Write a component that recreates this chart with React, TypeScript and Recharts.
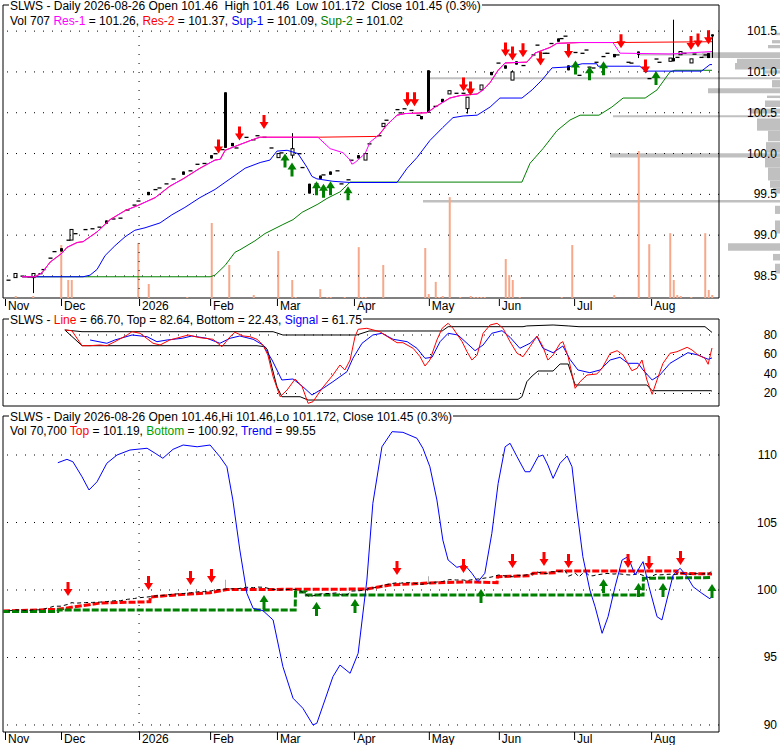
import React from 'react';
import { ComposedChart, Line, Bar, Scatter, XAxis, YAxis, ReferenceLine, ReferenceArea } from 'recharts';

const FONT = '"Liberation Sans", Arial, Helvetica, sans-serif';

// x axis = trading-day index (0 = first bar, early Nov 2025)
const T_MIN = -4 / 7;
const T_MAX = 204;
const T_RIGHT_EDGE = 221.43;
const PROFILE_UNITS_PER_DAY = 3.5;

const monthTicks = [0, 16, 38.3, 58.6, 77.7, 99.7, 121.1, 141.1, 162.6, 184.6];
const monthLabels = ['Nov', 'Dec', '2026', 'Feb', 'Mar', 'Apr', 'May', 'Jun', 'Jul', 'Aug'];
const yearTick = 38.3;

const priceTicks = [98.5, 99, 99.5, 100, 100.5, 101, 101.5];
const oscTicks = [20, 40, 60, 80];
const trendTicks = [90, 95, 100, 105, 110];

// candles: [t, o, h, l, c] or [t, price] for a flat bar
const candles: number[][] = [
  [1, 98.45], [3, 98.48, 98.53, 98.48, 98.53], [5, 98.5], [7, 98.49], [8, 98.48, 98.53, 98.29, 98.53],
  [10, 98.53], [11, 98.58], [13, 98.72], [14, 98.8], [16, 98.84, 98.84, 98.8, 98.8], [18, 98.94],
  [19, 98.94, 99.07, 98.94, 99.07], [20, 99.02], [23, 99.07], [25, 99.08], [27, 99.1],
  [29, 99.18, 99.18, 99.14, 99.14], [31, 99.2], [33, 99.21], [35, 99.31], [37, 99.37], [38, 99.42],
  [41, 99.53, 99.53, 99.49, 99.49], [43, 99.56], [44, 99.58], [46, 99.63], [48, 99.69],
  [51, 99.78, 99.78, 99.74, 99.74], [53, 99.79], [55, 99.87], [57, 99.88], [59, 99.98, 99.98, 99.94, 99.94],
  [60, 100.0], [62, 100.05], [63, 100.75, 100.75, 100.07, 100.07], [65, 100.13, 100.13, 100.09, 100.09],
  [66, 100.07], [69, 100.2], [71, 100.17], [72, 100.22], [74, 100.2], [76, 100.07],
  [78, 99.95, 100.0, 99.95, 100.0], [79, 100.01], [82, 99.98, 100.25, 99.94, 100.06], [84, 100.0],
  [85, 99.83], [87, 99.63, 99.63, 99.51, 99.51], [89, 99.63], [90, 99.73, 99.73, 99.69, 99.69],
  [91, 99.74], [93, 99.78, 99.78, 99.74, 99.74], [95, 99.79], [96, 99.63], [98, 99.68], [99, 99.92],
  [101, 99.98, 99.98, 99.94, 99.94], [103, 99.92, 100.0, 99.92, 100.0], [104, 100.12], [107, 100.22],
  [108, 100.33, 100.37, 100.33, 100.37], [109, 100.41], [112, 100.54], [113, 100.5], [114, 100.55],
  [116, 100.53], [118, 100.47], [119, 100.46, 100.46, 100.42, 100.42], [121, 101.02, 101.02, 100.5, 100.5],
  [123, 100.58], [125, 100.67, 100.67, 100.63, 100.63], [127, 100.73, 100.77, 100.73, 100.77],
  [129, 100.74], [131, 100.74], [132, 100.55, 100.69, 100.49, 100.69], [133, 100.75],
  [136, 100.78, 100.84, 100.78, 100.84], [139, 101.0, 101.0, 100.96, 100.96], [141, 101.11],
  [143, 101.08, 101.08, 101.04, 101.04], [145, 100.9, 101.02, 100.9, 101.0],
  [146, 101.13, 101.13, 101.09, 101.09], [148, 101.08], [151, 101.21], [152, 101.33], [154, 101.23],
  [155, 101.23], [156, 101.35], [158, 101.41, 101.41, 101.37, 101.37], [159, 101.41], [160, 101.44],
  [161, 101.08, 101.08, 101.02, 101.02], [163, 101.24], [164, 100.96], [165, 101.23], [166, 101.27],
  [167, 101.06], [168, 101.05], [169, 101.12], [171, 101.19], [172, 101.23],
  [174, 101.22, 101.22, 101.18, 101.18], [175, 101.21], [178, 101.12], [179, 101.11],
  [181, 101.25, 101.25, 101.17, 101.21], [183, 101.01], [184, 100.92], [186, 101.16], [187, 101.12],
  [190, 101.13, 101.17, 101.13, 101.17], [191, 101.17, 101.64, 101.13, 101.13], [192, 101.18],
  [193, 101.21, 101.25, 101.21, 101.25], [194, 101.23], [196, 101.11, 101.16, 101.11, 101.16],
  [197, 101.22], [199, 101.18], [200, 101.21], [201, 101.23, 101.23, 101.17, 101.17],
  [202, 101.46, 101.46, 101.172, 101.45],
];

const volume: [number, number][] = [
  [3, 470], [8, 470], [16, 12500], [18, 4250], [19, 4250], [38, 13000], [41, 3300], [52, 240], [59, 17700],
  [64, 7800], [71, 700], [78, 11100], [82, 4250], [83, 240], [90, 2100], [92, 240], [93, 240], [97, 240],
  [101, 12000], [102, 240], [103, 240], [108, 7800], [120, 11800], [121, 940], [123, 3800], [124, 240],
  [125, 470], [127, 23800], [130, 240], [133, 470], [134, 240], [135, 240], [136, 240], [137, 240],
  [143, 9200], [144, 5400], [145, 4250], [147, 240], [159, 240], [162, 12500], [174, 700], [181, 34700],
  [184, 12700], [190, 15300], [191, 4250], [192, 700], [193, 470], [196, 240], [200, 15300], [201, 1900],
  [202, 707],
];

// volume-by-price: [low, high, volume]
const priceProfile: [number, number, number][] = [
  [101.45, 101.48, 5], [101.35, 101.39, 8], [101.29, 101.33, 12], [101.17, 101.24, 78],
  [101.2, 101.225, 142], [101.11, 101.16, 43], [101.03, 101.11, 45], [100.98, 101.02, 15],
  [100.91, 100.935, 350], [100.81, 100.9, 8], [100.74, 100.8, 72], [100.68, 100.71, 13],
  [100.57, 100.65, 15], [100.49, 100.55, 30], [100.445, 100.47, 167], [100.28, 100.43, 23],
  [100.15, 100.28, 12], [100.01, 100.14, 14], [99.95, 100.005, 170], [99.83, 99.95, 15],
  [99.67, 99.83, 12], [99.58, 99.67, 10], [99.51, 99.58, 7], [99.4, 99.43, 357], [99.26, 99.36, 5],
  [99.02, 99.18, 5], [98.81, 98.9, 52], [98.69, 98.77, 7], [98.53, 98.65, 5],
];

const res1: [number, number][] = [
  [4.9, 98.49], [8.6, 98.49], [10.6, 98.54], [12.9, 98.67], [16.3, 98.78], [17.7, 98.85], [20.6, 98.91],
  [22.3, 98.92], [26.3, 99.04], [30, 99.19], [34.3, 99.3], [38.3, 99.37], [42.9, 99.46], [47.1, 99.6],
  [50.9, 99.69], [55.7, 99.82], [60, 99.92], [61.5, 99.93], [62.9, 100.04], [67.1, 100.11], [71.4, 100.18],
  [72.9, 100.2], [89.4, 100.2], [92.9, 100.06], [96.6, 100.01], [98.6, 99.92], [99.1, 99.87], [100, 99.89],
  [102.9, 100.0], [104.3, 100.14], [106.6, 100.22], [109.1, 100.35], [112, 100.47], [114.3, 100.49],
  [120.6, 100.5], [122.9, 100.57], [127.1, 100.68], [130, 100.71], [134.9, 100.73], [136.6, 100.78],
  [138.6, 100.87], [140.9, 101.02], [142.9, 101.11], [149.1, 101.12], [151.4, 101.23], [155.7, 101.3],
  [157.7, 101.35], [164.3, 101.36], [173.7, 101.36], [175.7, 101.23], [190, 101.22], [202, 101.25],
];
const res2: [number, number][] = [
  [4.9, 98.49], [8.6, 98.49], [10.6, 98.54], [12.9, 98.67], [16.3, 98.78], [17.7, 98.85], [20.6, 98.91],
  [22.3, 98.92], [26.3, 99.04], [30, 99.19], [34.3, 99.3], [38.3, 99.37], [42.9, 99.46], [47.1, 99.6],
  [50.9, 99.69], [55.7, 99.82], [60, 99.92], [61.5, 99.93], [62.9, 100.04], [67.1, 100.11], [71.4, 100.18],
  [72.9, 100.2], [89.4, 100.2], [106.6, 100.21], [109.1, 100.35], [112, 100.47], [114.3, 100.49],
  [120.6, 100.5], [122.9, 100.57], [127.1, 100.68], [130, 100.71], [134.9, 100.73], [136.6, 100.78],
  [138.6, 100.87], [140.9, 101.02], [142.9, 101.11], [149.1, 101.12], [151.4, 101.23], [155.7, 101.3],
  [157.7, 101.35], [164.3, 101.36], [173.7, 101.36], [202, 101.37],
];
const sup1: [number, number][] = [
  [4.9, 98.49], [22.3, 98.49], [24.3, 98.51], [26.3, 98.58], [28.6, 98.75], [31.4, 98.87], [34.3, 98.98],
  [37.1, 99.06], [40, 99.09], [44.3, 99.15], [47.7, 99.25], [51.4, 99.34], [55.7, 99.46], [60, 99.56],
  [64.3, 99.69], [68.6, 99.82], [72.9, 99.89], [75.7, 99.92], [77.7, 100.03], [80.6, 100.04],
  [83.7, 100.0], [86.3, 99.83], [87.7, 99.72], [89.1, 99.69], [93.7, 99.66], [98.6, 99.645],
  [112, 99.645], [114.9, 99.82], [117.7, 99.95], [121.4, 100.16], [125.1, 100.32], [128, 100.44],
  [130.9, 100.46], [134.9, 100.47], [138.6, 100.57], [141.4, 100.68], [147.7, 100.68], [150.6, 100.78],
  [153.4, 100.9], [156.3, 101.05], [160.6, 101.06], [162.9, 101.08], [164.9, 101.1], [169.1, 101.1],
  [169.4, 101.07], [181.4, 101.07], [182.9, 101.01], [199, 101.01], [201.4, 101.09], [202, 101.09],
];
const sup2: [number, number][] = [
  [4.9, 98.49], [58.6, 98.49], [60, 98.51], [62.9, 98.63], [65.7, 98.79], [67.1, 98.82], [71.4, 98.93],
  [74.3, 99.02], [79.4, 99.13], [82.3, 99.19], [84.9, 99.28], [89.4, 99.38], [92, 99.45], [95.7, 99.53],
  [98.6, 99.65], [147.7, 99.65], [150, 99.88], [153.7, 100.06], [157.7, 100.28], [161.4, 100.41],
  [164.3, 100.47], [169.7, 100.47], [173.4, 100.57], [176.6, 100.68], [182.9, 100.68], [186.3, 100.78],
  [190, 101.0], [191.4, 101.02], [202, 101.02],
];

const sellSignals1: [number, number][] = [
  [61, 100.0], [67, 100.16], [74, 100.3], [115, 100.58], [117, 100.58], [131, 100.76], [133, 100.71],
  [143, 101.19], [145, 101.14], [148, 101.18], [153, 101.08], [161, 101.17], [176, 101.29], [183, 100.98],
  [196, 101.27], [198, 101.3], [201, 101.34],
];
const buySignals1: [number, number][] = [
  [80, 100.0], [82, 99.89], [89, 99.66], [91, 99.63], [93, 99.66], [98, 99.6], [163, 101.14], [167, 101.07],
  [171, 101.13], [186, 101.01],
];

// oscillator panel
const oscLine: [number, number][] = [
  [17.1, 85.13], [19.1, 84.41], [20.9, 74.87], [22, 69.03], [24.3, 69.03], [27.1, 69.74], [29.1, 69.03],
  [31.4, 73.13], [34.9, 80], [36.3, 83.38], [38.6, 81.74], [42.3, 71.49], [44.3, 69.74], [47.1, 74.87],
  [50, 77.64], [52.3, 80], [55.7, 77.23], [59.4, 75.59], [62, 68.0], [64.3, 78.26], [65.7, 82.77],
  [68, 78.97], [70, 78.26], [72, 75.59], [73.7, 69.74], [75.1, 59.49], [76.6, 37.23], [78.6, 16.72],
  [80.6, 23.59], [82.9, 34.87], [84.9, 26.97], [86.6, 9.95], [88, 11.59], [90.6, 25.33], [93.7, 38.97],
  [95.7, 49.23], [97.1, 44.1], [98.6, 54.36], [100, 78.26], [100.9, 85.85], [103.4, 86.87], [107.1, 83.38],
  [110, 76.62], [112, 72.1], [113.7, 72.1], [116.6, 66.36], [118.6, 57.74], [120, 48.21], [121.4, 54.36],
  [123.4, 74.87], [124.9, 86.87], [126.6, 92.0], [128, 86.87], [130.6, 73.13], [132, 62.87], [133.4, 54.36],
  [134.9, 59.49], [136.6, 81.74], [138.6, 90.26], [140.6, 92.0], [142.3, 86.87], [144.3, 73.13],
  [146.3, 61.23], [148, 57.74], [150, 68.0], [152, 78.97], [153.7, 68.0], [155.1, 54.36], [156.6, 59.49],
  [158.6, 71.49], [159.4, 73.13], [160.9, 57.74], [162.9, 25.33], [164.3, 32.1], [166.3, 38.97],
  [169.1, 40.0], [170.6, 45.85], [172.9, 61.23], [174.9, 63.9], [176.6, 59.49], [179.1, 43.38],
  [180.6, 45.85], [182, 54.36], [183.4, 33.85], [184.9, 19.18], [186.3, 33.85], [188, 50.97], [190, 61.23],
  [192, 62.87], [194.9, 67.38], [196.3, 64.62], [198, 59.49], [200, 56.1], [200.9, 49.95], [202, 66.7],
];
const oscSignal: [number, number][] = [
  [24.3, 74.87], [29.1, 71.49], [31.4, 74.87], [36.3, 80], [40.6, 78.26], [43.4, 73.13], [46.3, 74.87],
  [50.6, 76.62], [53.4, 78.97], [57.7, 76.62], [61.4, 71.49], [64.3, 76.62], [67.1, 78.97], [70.9, 75.59],
  [73.7, 69.74], [76.3, 54.36], [79.1, 33.85], [82.3, 34.87], [85.1, 26.97], [87.7, 18.46], [90.9, 25.33],
  [93.7, 32.1], [97.7, 42.36], [99.4, 56.1], [102, 71.49], [105.1, 80], [107.7, 81.74], [110.9, 75.59],
  [114.9, 73.13], [117.7, 66.36], [120, 56.1], [122, 57.13], [124.3, 73.13], [126.6, 81.74], [129.4, 80],
  [132, 71.49], [134.3, 63.9], [136.6, 69.74], [139.1, 81.74], [142, 84.41], [144.3, 77.64], [147.1, 66.36],
  [150, 71.49], [152, 78.26], [153.7, 66.36], [156.6, 61.85], [159.4, 68.72], [161.4, 55.08], [163.7, 44.1],
  [167.1, 41.33], [170, 44.1], [172.9, 54.36], [175.7, 57.13], [178, 50.97], [180.9, 50.97], [182.3, 44.1],
  [184.9, 33.85], [187.1, 38.97], [190, 50.97], [192.9, 57.13], [195.1, 61.85], [198, 59.49],
  [200.9, 55.08], [202, 56.5],
];
const oscTop: [number, number][] = [
  [17.1, 85.13], [22, 83.38], [76.6, 83.38], [79.4, 80.0], [100.5, 80.0], [104, 84.1], [124.9, 84.1],
  [126.6, 88.5], [148, 88.5], [149.1, 89.3], [156.6, 90.26], [160.9, 89.3], [164, 88.5], [200, 88.5],
  [202, 82.64],
];
const oscBottom: [number, number][] = [
  [17.1, 85.13], [22, 69.03], [72, 69.03], [74.3, 68.0], [75, 64.6], [77.7, 27.0], [79.1, 16.7],
  [84.3, 16.7], [86.6, 13.3], [146.6, 14.05], [147.7, 16.7], [149.1, 32.1], [150.6, 37.95], [152.3, 43.08],
  [156.6, 43.08], [158.6, 50.26], [160.9, 50.26], [162.9, 28.72], [183.4, 28.72], [184.9, 22.87],
  [201.7, 22.87], [202, 22.43],
];

// trend panel
const trendLine: [number, number][] = [
  [15.1, 109.43], [17.7, 109.68], [19.4, 109.5], [22, 108.39], [24, 107.41], [26.3, 108.02], [29.1, 109.39],
  [32, 110.0], [35.7, 110.37], [40.6, 110.5], [42.9, 110.13], [45.1, 109.76], [48, 110.42], [50.9, 110.74],
  [54.9, 110.61], [58.6, 110.74], [61.4, 109.87], [63.4, 109.13], [65.1, 106.67], [67.1, 102.96],
  [69.1, 99.76], [70.9, 98.64], [73.7, 98.47], [76.6, 97.78], [79.4, 94.32], [82.3, 91.98], [85.1, 91.24],
  [88, 90.0], [89.1, 90.13], [91.4, 91.85], [93.7, 93.58], [95.7, 94.44], [98.6, 93.83], [100.9, 95.31],
  [103.4, 100.74], [105.1, 106.42], [107.7, 110.61], [110.6, 111.73], [113.7, 111.68], [117.7, 111.24],
  [119.4, 110.5], [121.4, 109.13], [123.4, 106.67], [125.1, 103.7], [126.6, 102.22], [129.1, 101.68],
  [131.4, 101.85], [133.4, 101.24], [135.1, 100.61], [137.1, 101.24], [139.1, 104.2], [140.9, 107.9],
  [142.9, 110.61], [144.3, 110.87], [146.3, 109.87], [148.6, 108.76], [150, 108.76], [152.3, 109.87],
  [153.7, 110.0], [155.1, 109.26], [156.6, 108.27], [158.6, 109.39], [160.6, 109.93], [162, 109.13],
  [163.4, 105.93], [165.1, 102.47], [167.1, 100.0], [168.6, 98.76], [170.6, 96.79], [172.3, 98.02],
  [174.3, 100.24], [176.3, 102.22], [178, 102.47], [180, 101.11], [182.3, 102.1], [184, 100.24],
  [186.3, 98.02], [187.7, 97.78], [189.1, 99.26], [190.9, 101.11], [192.9, 101.61], [194.9, 100.99],
  [196.6, 100.24], [199.1, 99.76], [201.4, 99.35], [202, 99.55],
];
const trendTop: [number, number][] = [
  [-0.57, 98.44], [15.1, 98.57], [27.1, 99.03], [41.4, 99.13], [41.5, 99.48], [47.1, 99.6], [58.6, 99.8],
  [63.4, 100.03], [103.4, 100.07], [110, 100.37], [121.4, 100.52], [132, 100.6], [140.6, 100.54],
  [140.7, 100.99], [150, 101.06], [150.9, 101.24], [157.7, 101.28], [157.8, 101.41], [192, 101.41],
  [192.1, 101.24], [202, 101.19],
];
const trendBottom: [number, number][] = [
  [-0.57, 98.4], [15.1, 98.4], [15.2, 98.52], [82.9, 98.52], [83, 99.85], [86, 99.85], [86.1, 99.63],
  [182.3, 99.63], [182.4, 100.87], [202, 100.92],
];
const sellSignals3: [number, number][] = [
  [18, 99.56], [41, 100.0], [53, 100.37], [59, 100.52], [112, 101.11], [131, 101.26], [145, 101.63],
  [154, 101.78], [161, 101.63], [178, 101.63], [184, 101.48], [193, 101.85],
];
const buySignals3: [number, number][] = [
  [74, 99.63], [89, 99.11], [100, 99.33], [136, 100.07], [171, 100.81], [181, 100.52], [188, 100.52],
  [202, 100.44],
];

// ---------- derived rows ----------
const toRows = (a: [number, number][]) => a.map(([t, v]) => ({ t, v }));
const candleRows = candles.map((r) =>
  r.length === 2 ? { t: r[0], o: r[1], h: r[1], l: r[1], c: r[1] } : { t: r[0], o: r[1], h: r[2], l: r[3], c: r[4] }
);
const volMap = new Map(volume.map(([t, v]) => [t, v]));
const allDays = Array.from(new Set([...candleRows.map((r) => r.t), ...volume.map((v) => v[0])])).sort((a, b) => a - b);
const dayRows = allDays.map((t) => {
  const c = candleRows.find((r) => r.t === t);
  return { ...(c || { t }), vol: volMap.get(t) } as any;
});
const closeRows = candleRows.map((r) => ({ t: r.t, v: r.c }));

// ---------- shapes ----------
const CandleShape = (props: any) => {
  const { x, y, width, height, payload } = props;
  if (!payload || payload.h == null || !Number.isFinite(x) || !Number.isFinite(y) || !Number.isFinite(height)) return <g />;
  const cx = Math.round(x + width / 2);
  const { o, h, l, c } = payload;
  const span = h - l;
  const toY = (v: number) => (span > 0 ? y + ((h - v) / span) * height : y);
  const top = toY(Math.max(o, c));
  const bot = toY(Math.min(o, c));
  return (
    <g>
      {span > 0 && <line x1={cx + 0.5} x2={cx + 0.5} y1={y} y2={y + height} stroke="#000" strokeWidth={1} />}
      {o === c && <rect x={cx - 1.5} y={top - 0.5} width={4} height={1.3} fill="#000" />}
      {c > o && <rect x={cx - 1} y={top} width={3} height={Math.max(bot - top, 2)} fill="#fff" stroke="#000" strokeWidth={1} />}
      {c < o && <rect x={cx - 1} y={top} width={3} height={Math.max(bot - top, 2)} fill="#000" />}
    </g>
  );
};

const DownArrow = (p: any) => {
  const { cx, cy } = p;
  if (!Number.isFinite(cx) || !Number.isFinite(cy)) return <g />;
  return <path d={`M${cx - 1.5} ${cy - 14}h3v7h3l-4.5 7-4.5-7h3z`} fill="#ff0000" />;
};
const UpArrow = (p: any) => {
  const { cx, cy } = p;
  if (!Number.isFinite(cx) || !Number.isFinite(cy)) return <g />;
  return <path d={`M${cx - 1.5} ${cy + 14}h3v-7h3l-4.5-7-4.5 7h3z`} fill="#008000" />;
};

const makeMonthTick = (lineTop: number, lineLen: number, textDy: number) => (props: any) => {
  const { x, y, payload } = props;
  const i = monthTicks.indexOf(payload.value);
  return (
    <g>
      <line x1={x + 0.5} x2={x + 0.5} y1={y + lineTop} y2={y + lineTop + lineLen} stroke="#000" />
      <text x={x + 3} y={y + textDy} fontFamily={FONT} fontSize={12} fill="#000">
        {monthLabels[i]}
      </text>
    </g>
  );
};

const makeValueTick = (digits: number) => (props: any) => {
  const { x, y, payload } = props;
  return (
    <text x={x + 58} y={y + 4} textAnchor="end" fontFamily={FONT} fontSize={12} fill="#000">
      {Number(payload.value).toFixed(digits)}
    </text>
  );
};

const gridProps = { stroke: '#000', strokeDasharray: '1 8', strokeWidth: 1 } as any;

const legendLine = (top: number): React.CSSProperties => ({
  position: 'absolute',
  left: 9,
  top,
  fontFamily: FONT,
  fontSize: 12,
  lineHeight: '15px',
  whiteSpace: 'pre',
  background: '#fff',
  padding: '0 1px',
  color: '#000',
});

const C = { mag: '#ff00ff', red: '#ff0000', blue: '#0000ff', green: '#008000' };

const P1 = [98.23, 101.82];
const P2 = [7.18, 96.4];
const P3 = [89.48, 112.89];

export default function App() {
  return (
    <div style={{ position: 'absolute', left: 0, top: 0, width: 780, height: 745, background: '#fff', overflow: 'hidden' }}>
      {/* Panel 1: price */}
      <div style={{ position: 'absolute', left: 0, top: 0 }}>
        <ComposedChart width={780} height={316} data={dayRows} margin={{ top: 5, right: 0, bottom: 0, left: 3 }}>
          <XAxis
            type="number"
            dataKey="t"
            domain={[T_MIN, T_MAX]}
            allowDataOverflow
            ticks={monthTicks}
            interval={0}
            tickSize={0}
            tickMargin={0}
            axisLine={false}
            tickLine={false}
            height={18}
            tick={makeMonthTick(1, 7, 12)}
          />
          <XAxis xAxisId="xv" type="number" dataKey="t" domain={[T_MIN, T_MAX]} allowDataOverflow hide />
          <YAxis
            orientation="right"
            domain={P1}
            allowDataOverflow
            ticks={priceTicks}
            interval={0}
            width={61}
            tickSize={0}
            tickMargin={0}
            axisLine={false}
            tickLine={false}
            tick={makeValueTick(1)}
          />
          <YAxis yAxisId="vol" domain={[0, 69150]} allowDataOverflow hide />
          {priceProfile.map(([lo, hi, vol], i) => (
            <ReferenceArea
              key={'pp' + i}
              x1={T_RIGHT_EDGE - vol / PROFILE_UNITS_PER_DAY}
              x2={T_RIGHT_EDGE}
              y1={lo}
              y2={hi}
              fill="#c0c0c0"
              fillOpacity={1}
              stroke="none"
              ifOverflow="visible"
            />
          ))}
          {priceTicks.map((v) => (
            <ReferenceLine key={'g' + v} y={v} {...gridProps} />
          ))}
          <ReferenceLine x={yearTick} {...gridProps} />
          <Bar xAxisId="xv" yAxisId="vol" dataKey="vol" barSize={2} fill="#f7a88a" isAnimationActive={false} />
          <Line data={toRows(sup2)} dataKey="v" stroke={C.green} strokeWidth={1} dot={false} activeDot={false} isAnimationActive={false} />
          <Line data={toRows(sup1)} dataKey="v" stroke={C.blue} strokeWidth={1} dot={false} activeDot={false} isAnimationActive={false} />
          <Line data={toRows(res2)} dataKey="v" stroke={C.red} strokeWidth={1} dot={false} activeDot={false} isAnimationActive={false} />
          <Line data={toRows(res1)} dataKey="v" stroke={C.mag} strokeWidth={1} dot={false} activeDot={false} isAnimationActive={false} />
          <Bar
            dataKey={(d: any) => (d.h == null ? null : [d.l, d.h])}
            barSize={4}
            shape={CandleShape}
            isAnimationActive={false}
          />
          <Scatter data={toRows(sellSignals1)} dataKey="v" shape={DownArrow} isAnimationActive={false} />
          <Scatter data={toRows(buySignals1)} dataKey="v" shape={UpArrow} isAnimationActive={false} />
          <ReferenceArea x1={T_MIN} x2={T_MAX} y1={P1[0]} y2={P1[1]} fill="none" stroke="#000" ifOverflow="visible" />
        </ComposedChart>
      </div>

      {/* Panel 2: oscillator */}
      <div style={{ position: 'absolute', left: 0, top: 316 }}>
        <ComposedChart width={780} height={92} margin={{ top: 3, right: 0, bottom: 2, left: 3 }}>
          <XAxis type="number" dataKey="t" domain={[T_MIN, T_MAX]} allowDataOverflow hide />
          <YAxis
            orientation="right"
            domain={P2}
            allowDataOverflow
            ticks={oscTicks}
            interval={0}
            width={61}
            tickSize={0}
            tickMargin={0}
            axisLine={false}
            tickLine={false}
            tick={makeValueTick(0)}
          />
          {oscTicks.map((v) => (
            <ReferenceLine key={'g2' + v} y={v} {...gridProps} />
          ))}
          <Line data={toRows(oscTop)} dataKey="v" stroke="#000" strokeWidth={1} dot={false} activeDot={false} isAnimationActive={false} />
          <Line data={toRows(oscBottom)} dataKey="v" stroke="#000" strokeWidth={1} dot={false} activeDot={false} isAnimationActive={false} />
          <Line data={toRows(oscSignal)} dataKey="v" stroke={C.blue} strokeWidth={1} dot={false} activeDot={false} isAnimationActive={false} />
          <Line data={toRows(oscLine)} dataKey="v" stroke={C.red} strokeWidth={1} dot={false} activeDot={false} isAnimationActive={false} />
          <ReferenceArea x1={T_MIN} x2={T_MAX} y1={P2[0]} y2={P2[1]} fill="none" stroke="#000" ifOverflow="visible" />
        </ComposedChart>
      </div>

      {/* Panel 3: trend */}
      <div style={{ position: 'absolute', left: 0, top: 408 }}>
        <ComposedChart width={780} height={337} data={candleRows} margin={{ top: 8, right: 0, bottom: 0, left: 3 }}>
          <XAxis
            type="number"
            dataKey="t"
            domain={[T_MIN, T_MAX]}
            allowDataOverflow
            ticks={monthTicks}
            interval={0}
            tickSize={0}
            tickMargin={0}
            axisLine={false}
            tickLine={false}
            height={13}
            tick={makeMonthTick(0, 8, 11)}
          />
          <YAxis
            orientation="right"
            domain={P3}
            allowDataOverflow
            ticks={trendTicks}
            interval={0}
            width={61}
            tickSize={0}
            tickMargin={0}
            axisLine={false}
            tickLine={false}
            tick={makeValueTick(0)}
          />
          {trendTicks.map((v) => (
            <ReferenceLine key={'g3' + v} y={v} {...gridProps} />
          ))}
          <ReferenceLine x={yearTick} {...gridProps} />
          <Line data={toRows(trendTop)} dataKey="v" stroke={C.red} strokeWidth={3} strokeDasharray="7 2" dot={false} activeDot={false} isAnimationActive={false} />
          <Line data={toRows(trendBottom)} dataKey="v" stroke={C.green} strokeWidth={3} strokeDasharray="7 2" dot={false} activeDot={false} isAnimationActive={false} />
          <Line data={closeRows} dataKey="v" stroke="#000" strokeWidth={1} strokeDasharray="4 3" dot={false} activeDot={false} isAnimationActive={false} />
          <Bar dataKey={(d: any) => [Math.min(d.o, d.c), Math.max(d.o, d.c)]} barSize={3} fill="#000" isAnimationActive={false} />
          <Line data={toRows(trendLine)} dataKey="v" stroke={C.blue} strokeWidth={1} dot={false} activeDot={false} isAnimationActive={false} />
          <Scatter data={toRows(sellSignals3)} dataKey="v" shape={DownArrow} isAnimationActive={false} />
          <Scatter data={toRows(buySignals3)} dataKey="v" shape={UpArrow} isAnimationActive={false} />
          <ReferenceArea x1={T_MIN} x2={T_MAX} y1={P3[0]} y2={P3[1]} fill="none" stroke="#000" ifOverflow="visible" />
        </ComposedChart>
      </div>

      {/* legends */}
      <div style={legendLine(-1)}>SLWS - Daily 2026-08-26 Open 101.46  High 101.46  Low 101.172  Close 101.45 (0.3%)</div>
      <div style={legendLine(14)}>
        Vol 707 <span style={{ color: C.mag }}>Res-1</span> = 101.26, <span style={{ color: C.red }}>Res-2</span> = 101.37,{' '}
        <span style={{ color: C.blue }}>Sup-1</span> = 101.09, <span style={{ color: C.green }}>Sup-2</span> = 101.02
      </div>
      <div style={legendLine(313)}>
        SLWS - <span style={{ color: C.red }}>Line</span> = 66.70, Top = 82.64, Bottom = 22.43,{' '}
        <span style={{ color: C.blue }}>Signal</span> = 61.75
      </div>
      <div style={legendLine(410)}>SLWS - Daily 2026-08-26 Open 101.46,Hi 101.46,Lo 101.172, Close 101.45 (0.3%)</div>
      <div style={legendLine(424)}>
        Vol 70,700 <span style={{ color: C.red }}>Top</span> = 101.19, <span style={{ color: '#00a000' }}>Bottom</span> = 100.92,{' '}
        <span style={{ color: C.blue }}>Trend</span> = 99.55
      </div>
    </div>
  );
}
